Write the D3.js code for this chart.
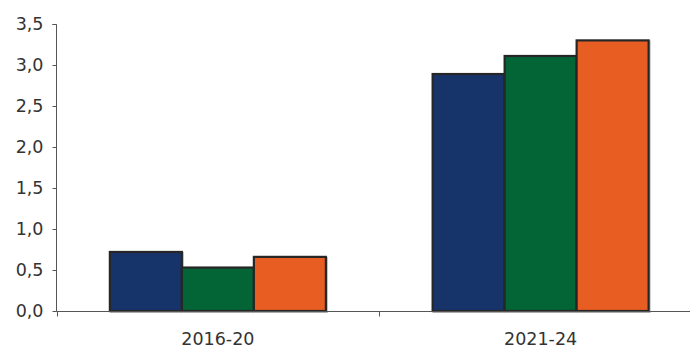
<!DOCTYPE html>
<html><head><meta charset="utf-8">
<script src="https://cdn.jsdelivr.net/npm/d3@7"></script>
<style>body{margin:0;background:#fff}svg{display:block}</style>
</head><body>
<svg id="c" width="690" height="349"></svg>
<script>
const categories = ["2016-20", "2021-24"];
const seriesNames = ["s1", "s2", "s3"];
const seriesA = [0.72, 2.89];
const seriesB = [0.53, 3.11];
const seriesC = [0.66, 3.30];
const yTicks = [0, 0.5, 1.0, 1.5, 2.0, 2.5, 3.0, 3.5];
const colors = ["#17346a", "#036535", "#e85d22"];

const series = [seriesA, seriesB, seriesC];
const svg = d3.select("#c");
const x0 = 56.5, xEnd = 702, yTop = 24, yBot = 311;
const x = d3.scaleBand().domain(categories).range([x0, xEnd]).paddingInner(0).paddingOuter(0);
const inner = d3.scaleBand().domain(seriesNames).range([0, 216]);
const y = d3.scaleLinear().domain([0, 3.5]).range([yBot, yTop]);
const font = "'DejaVu Sans', sans-serif";
const fs = 17.5;

// bars
categories.forEach((cat, ci) => {
  const gx = x(cat) + (x.bandwidth() - 216) / 2;
  series.forEach((s, si) => {
    svg.append("rect")
      .attr("x", gx + inner(seriesNames[si]) + 1)
      .attr("y", y(s[ci]) + 1)
      .attr("width", inner.bandwidth())
      .attr("height", y(0) - y(s[ci]))
      .attr("fill", "none").attr("stroke", "#bbb").attr("stroke-width", 2);
    svg.append("rect")
      .attr("x", gx + inner(seriesNames[si]))
      .attr("y", y(s[ci]))
      .attr("width", inner.bandwidth())
      .attr("height", y(0) - y(s[ci]))
      .attr("fill", colors[si]).attr("stroke", "#262626").attr("stroke-width", 2.2);
  });
});

// y axis
const yAxis = d3.axisLeft(y).tickValues(yTicks).tickSize(4).tickPadding(9)
  .tickFormat(d => d3.format(".1f")(d).replace(".", ","));
const gy = svg.append("g").attr("transform", `translate(${x0},0)`).call(yAxis);
gy.select(".domain").attr("stroke", "#555").attr("d", `M-4,${yTop}.5H0V${yBot}.5`);
gy.selectAll(".tick line").attr("stroke", "#555");
gy.selectAll("text").attr("font-family", font).attr("font-size", fs).attr("fill", "#333");

// x axis
const gx = svg.append("g").attr("transform", `translate(0,${yBot + 0.5})`);
gx.append("line").attr("x1", x0).attr("x2", 690).attr("stroke", "#555");
const tickPos = [x0, x0 + x.bandwidth()];
tickPos.forEach(p => gx.append("line").attr("x1", Math.round(p) + 0.5).attr("x2", Math.round(p) + 0.5).attr("y1", 0).attr("y2", 5).attr("stroke", "#555"));
categories.forEach(cat => {
  gx.append("text").attr("x", x(cat) + x.bandwidth() / 2).attr("y", 33)
    .attr("text-anchor", "middle").attr("font-family", font).attr("font-size", fs).attr("fill", "#333").text(cat);
});
</script>
</body></html>
